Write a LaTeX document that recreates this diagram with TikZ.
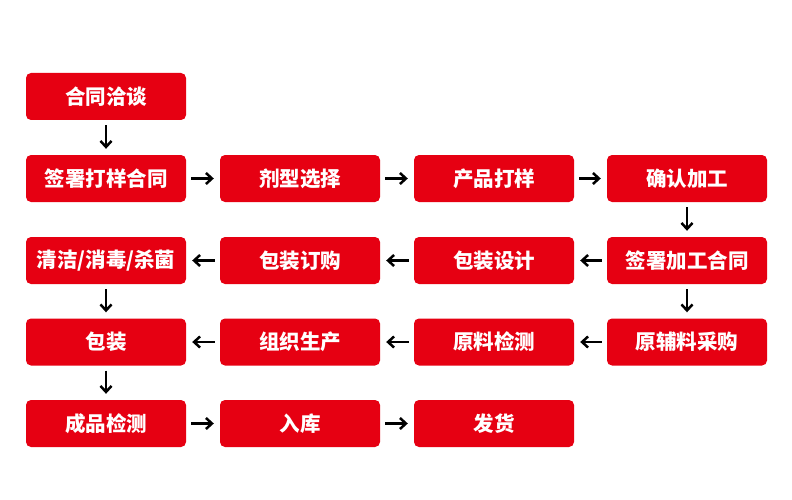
\documentclass[tikz,border=0pt]{standalone}
\usepackage{fontspec}
\newfontfamily\cjk{Noto Sans CJK SC}
\usetikzlibrary{arrows.meta}
\definecolor{boxred}{HTML}{E60012}
\begin{document}
\begin{tikzpicture}[x=1pt,y=-1pt,
  stepbox/.style={fill=boxred,rounded corners=5pt,minimum width=160pt,minimum height=47pt,inner sep=0pt,
    text=white,font=\cjk\bfseries\fontsize{20.5}{21}\selectfont},
  conn/.style={draw=black,line width=2.5pt,-{Straight Barb[length=6pt,width=11pt,line width=2.5pt]},shorten >=6pt,shorten <=5pt}]
\useasboundingbox (0,0) rectangle (792,500);
% columns centers: 106, 300, 494, 687 ; rows: 96.5, 178.5, 260.5, 342, 423.5
\node[stepbox] (a1) at (106,96.5) {合同洽谈};
\node[stepbox] (b1) at (106,178.5) {签署打样合同};
\node[stepbox] (b2) at (300,178.5) {剂型选择};
\node[stepbox] (b3) at (494,178.5) {产品打样};
\node[stepbox] (b4) at (687,178.5) {确认加工};
\node[stepbox] (c4) at (687,260.5) {签署加工合同};
\node[stepbox] (c3) at (494,260.5) {包装设计};
\node[stepbox] (c2) at (300,260.5) {包装订购};
\node[stepbox] (c1) at (106,260.5) {清洁/消毒/杀菌};
\node[stepbox] (d1) at (106,342) {包装};
\node[stepbox] (d2) at (300,342) {组织生产};
\node[stepbox] (d3) at (494,342) {原料检测};
\node[stepbox] (d4) at (687,342) {原辅料采购};
\node[stepbox] (e1) at (106,423.5) {成品检测};
\node[stepbox] (e2) at (300,423.5) {入库};
\node[stepbox] (e3) at (494,423.5) {发货};
\draw[conn] (a1) -- (b1);
\draw[conn] (b1) -- (b2);
\draw[conn] (b2) -- (b3);
\draw[conn] (b3) -- (b4);
\draw[conn] (b4) -- (c4);
\draw[conn] (c4) -- (c3);
\draw[conn] (c3) -- (c2);
\draw[conn] (c2) -- (c1);
\draw[conn] (c1) -- (d1);
\draw[conn] (d4) -- (d3);
\draw[conn] (d3) -- (d2);
\draw[conn] (d2) -- (d1);
\draw[conn] (c4) -- (d4);
\draw[conn] (d1) -- (e1);
\draw[conn] (e1) -- (e2);
\draw[conn] (e2) -- (e3);
\end{tikzpicture}
\end{document}
